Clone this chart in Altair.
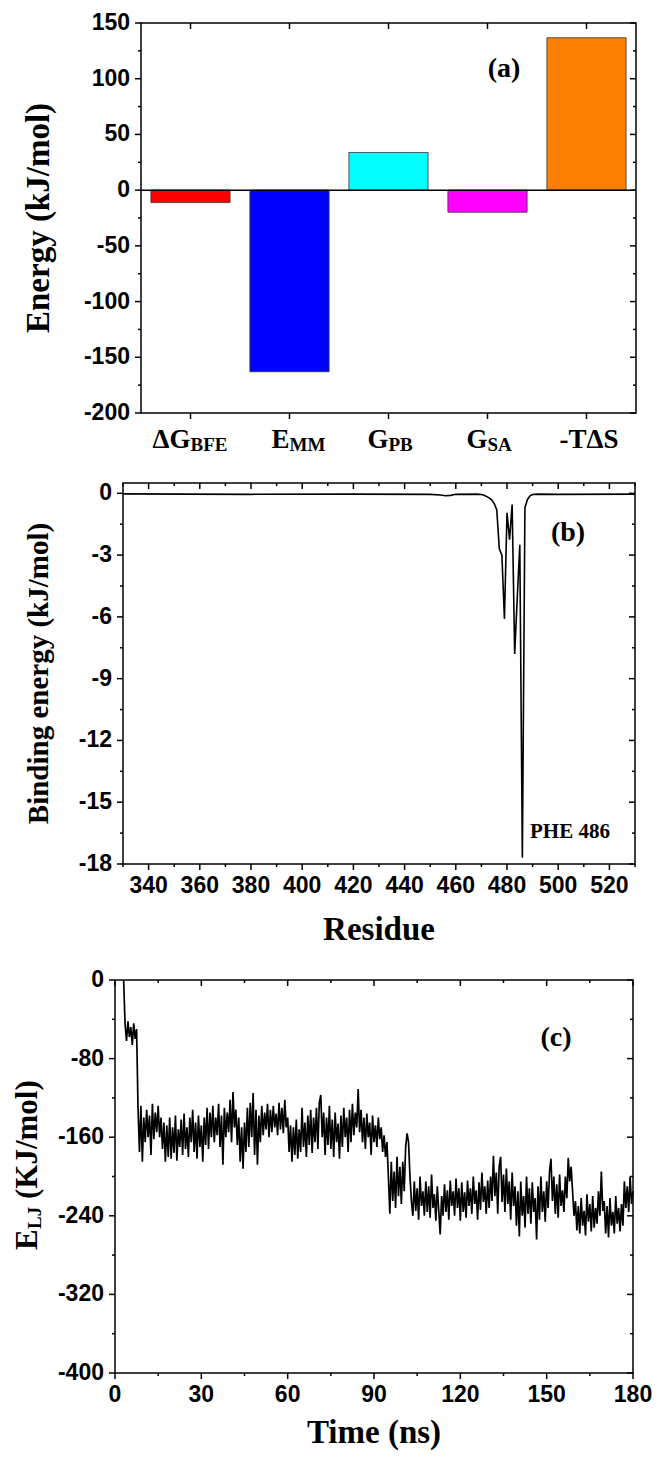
import altair as alt
import pandas as pd

SERIF = "Liberation Serif"
SANS = "Liberation Sans"

# ---------------- Panel (a): energy components ----------------
terms = ["dG_BFE", "E_MM", "G_PB", "G_SA", "-TdS"]
energy = [-11.2, -163.0, 33.8, -19.8, 136.8]
bar_colors = ["#FF0000", "#0000FF", "#00FFFF", "#FF00FF", "#FF8000"]
label_main = ["ΔG", "E", "G", "G", "-T"]
label_sub = ["BFE", "MM", "PB", "SA", ""]
label_tail = ["", "", "", "", "ΔS"]
a_y_major = [-200, -150, -100, -50, 0, 50, 100, 150]
a_y_labels = ["-200", "-150", "-100", "-50", "0", "50", "100", "150"]
a_y_minor = [-175, -125, -75, -25, 25, 75, 125]
a_title = "Energy (kJ/mol)"

# ---------------- Panel (b): per-residue binding energy ----------------
residue = [330, 380, 420, 450, 454, 456, 458, 460, 468, 470, 471, 472, 473, 474,
           475, 476, 477, 478, 479, 480, 481, 482, 483, 484, 485, 486, 487, 488,
           489, 490, 492, 500, 530]
binding = [-0.03, -0.05, -0.04, -0.05, -0.08, -0.12, -0.10, -0.05, -0.04, -0.06,
           -0.10, -0.15, -0.22, -0.32, -0.50, -0.80, -2.70, -3.00, -6.10, -0.95,
           -2.25, -0.55, -7.80, -5.10, -2.50, -17.70, -0.70, -0.30, -0.12, -0.06,
           -0.04, -0.05, -0.04]
b_y_major = [-18, -15, -12, -9, -6, -3, 0]
b_y_labels = ["-18", "-15", "-12", "-9", "-6", "-3", "0"]
b_y_minor = [-16.5, -13.5, -10.5, -7.5, -4.5, -1.5]
b_x_major = [340, 360, 380, 400, 420, 440, 460, 480, 500, 520]
b_x_labels = ["340", "360", "380", "400", "420", "440", "460", "480", "500", "520"]
b_x_minor = [330, 350, 370, 390, 410, 430, 450, 470, 490, 510, 530]
b_title_y = "Binding energy (kJ/mol)"
b_title_x = "Residue"

# ---------------- Panel (c): E_LJ vs time (sampled every 0.5 ns from 3.0 ns) ----------------
elj = [
    0, -45, -62, -42, -58, -48, -66, -44, -60, -50,
    -130, -175, -128, -185, -140, -165, -132, -160, -138, -178,
    -126, -162, -135, -155, -128, -160, -140, -172, -145, -185,
    -148, -180, -140, -182, -150, -176, -138, -184, -152, -170,
    -142, -178, -136, -172, -150, -180, -140, -165, -132, -175,
    -145, -182, -138, -170, -148, -185, -140, -168, -130, -172,
    -135, -160, -128, -165, -140, -158, -126, -170, -138, -188,
    -130, -160, -135, -155, -122, -165, -114, -150, -132, -168,
    -140, -185, -150, -192, -145, -175, -130, -170, -125, -160,
    -115, -178, -132, -188, -138, -165, -128, -158, -135, -152,
    -126, -160, -132, -155, -128, -150, -136, -158, -125, -152,
    -130, -156, -122, -150, -140, -175, -148, -185, -150, -178,
    -142, -182, -152, -175, -130, -170, -145, -180, -138, -168,
    -132, -176, -140, -165, -130, -172, -125, -117, -160, -135,
    -178, -140, -168, -128, -172, -142, -180, -135, -165, -146,
    -182, -138, -170, -130, -160, -140, -175, -132, -165, -126,
    -158, -135, -150, -111, -155, -132, -165, -140, -172, -136,
    -160, -145, -178, -138, -165, -148, -170, -140, -162, -150,
    -175, -158, -180, -165, -200, -238, -185, -225, -195, -232,
    -180, -220, -190, -228, -185, -215, -170, -156, -165, -200,
    -225, -240, -205, -235, -212, -244, -200, -230, -215, -240,
    -205, -236, -210, -242, -198, -232, -218, -245, -210, -235,
    -259, -220, -240, -208, -236, -214, -244, -204, -230, -215,
    -240, -202, -232, -212, -245, -206, -236, -216, -242, -204,
    -230, -212, -238, -200, -228, -214, -244, -206, -234, -196,
    -226, -210, -238, -204, -232, -200, -225, -179, -220, -196,
    -238, -190, -180, -226, -198, -236, -192, -228, -205, -244,
    -196, -230, -210, -250, -215, -261, -205, -240, -220, -252,
    -200, -238, -212, -248, -206, -236, -222, -264, -210, -244,
    -200, -236, -215, -246, -205, -232, -195, -182, -225, -200,
    -238, -208, -242, -198, -230, -214, -236, -200, -222, -181,
    -205, -190, -215, -240, -225, -255, -230, -258, -222, -250,
    -235, -260, -218, -246, -228, -256, -220, -252, -232, -248,
    -215, -240, -195, -235, -225, -258, -230, -262, -222, -250,
    -236, -258, -220, -248, -232, -256, -228, -250, -205, -232,
    -210, -236, -200, -228, -215,
]
time_ns = [3.0 + 0.5 * i for i in range(len(elj))]
c_y_major = [-400, -320, -240, -160, -80, 0]
c_y_labels = ["-400", "-320", "-240", "-160", "-80", "0"]
c_y_minor = [-360, -280, -200, -120, -40]
c_x_major = [0, 30, 60, 90, 120, 150, 180]
c_x_labels = ["0", "30", "60", "90", "120", "150", "180"]
c_x_minor = [15, 45, 75, 105, 135, 165]
c_title_y = ["E", "LJ", "(KJ/mol)"]
c_title_x = "Time (ns)"

ONE = pd.DataFrame({"k": [0]})
LABEL_SIZE = 23


def vticks(vals, field, scale, x0, x1):
    df = pd.DataFrame({field: vals})
    return alt.Chart(df).mark_rule(color="black", strokeWidth=1.5).encode(
        y=alt.Y(f"{field}:Q", scale=scale, axis=None),
        x=alt.value(x0), x2=alt.value(x1))


def hticks(vals, field, ftype, scale, y0, y1):
    df = pd.DataFrame({field: vals})
    return alt.Chart(df).mark_rule(color="black", strokeWidth=1.5).encode(
        x=alt.X(f"{field}:{ftype}", scale=scale, axis=None),
        y=alt.value(y0), y2=alt.value(y1))


def vlabels(vals, texts, field, scale):
    df = pd.DataFrame({field: vals, "lab": texts})
    return alt.Chart(df).mark_text(align="right", baseline="middle", font=SANS,
                                   fontWeight="bold", fontSize=LABEL_SIZE, color="black").encode(
        y=alt.Y(f"{field}:Q", scale=scale, axis=None), x=alt.value(-11), text="lab:N")


def hlabels(vals, texts, field, scale, h):
    df = pd.DataFrame({field: vals, "lab": texts})
    return alt.Chart(df).mark_text(align="center", baseline="top", font=SANS,
                                   fontWeight="bold", fontSize=LABEL_SIZE, color="black").encode(
        x=alt.X(f"{field}:Q", scale=scale, axis=None), y=alt.value(h + 11), text="lab:N")


def box(w, h):
    return alt.Chart(ONE).mark_rect(fillOpacity=0, stroke="black", strokeWidth=1.5).encode(
        x=alt.value(0), x2=alt.value(w), y=alt.value(0), y2=alt.value(h))


def frame(left, top, w, h, bottom):
    return alt.Chart(ONE).mark_rule(strokeOpacity=0, color="white").encode(
        x=alt.value(-left), x2=alt.value(w), y=alt.value(-top), y2=alt.value(h + bottom))


def note(text, x, y, size, angle=0, align="center", baseline="middle"):
    return alt.Chart(ONE).mark_text(text=text, font=SERIF, fontWeight="bold", fontSize=size,
                                    color="black", align=align, baseline=baseline,
                                    angle=angle).encode(x=alt.value(x), y=alt.value(y))


def spacer(w):
    return alt.Chart(ONE).mark_rule(strokeOpacity=0, color="white").encode(
        x=alt.value(0), x2=alt.value(w), y=alt.value(0)).properties(width=w, height=1)


# ---------- Panel (a) ----------
W_A, H_A = 495, 390
sx_a = alt.Scale(domain=terms, paddingInner=0.2, paddingOuter=0.1)
sy_a = alt.Scale(domain=[-200, 150], nice=False)
df_a = pd.DataFrame({"term": terms, "energy": energy, "main": label_main,
                     "sub": label_sub, "tail": label_tail})

bars = alt.Chart(df_a).mark_bar(stroke="#333333", strokeWidth=0.8).encode(
    x=alt.X("term:N", scale=sx_a, axis=None),
    y=alt.Y("energy:Q", scale=sy_a, axis=None),
    y2=alt.datum(0),
    color=alt.Color("term:N", scale=alt.Scale(domain=terms, range=bar_colors), legend=None),
)
zero_a = alt.Chart(pd.DataFrame({"energy": [0]})).mark_rule(color="black", strokeWidth=1.5).encode(
    y=alt.Y("energy:Q", scale=sy_a, axis=None))
lab_main = alt.Chart(df_a).mark_text(align="right", baseline="alphabetic", font=SERIF,
                                     fontWeight="bold", fontSize=27, color="black").encode(
    x=alt.X("term:N", scale=sx_a, axis=None), y=alt.value(H_A + 35), text="main:N")
lab_sub = alt.Chart(df_a).mark_text(align="left", baseline="alphabetic", font=SERIF,
                                    fontWeight="bold", fontSize=19, color="black").encode(
    x=alt.X("term:N", scale=sx_a, axis=None), y=alt.value(H_A + 38), text="sub:N")
lab_tail = alt.Chart(df_a).mark_text(align="left", baseline="alphabetic", font=SERIF,
                                     fontWeight="bold", fontSize=27, color="black").encode(
    x=alt.X("term:N", scale=sx_a, axis=None), y=alt.value(H_A + 35), text="tail:N")

panel_a = alt.layer(
    frame(122, 15, W_A, H_A, 62),
    bars, zero_a,
    vticks(a_y_major, "energy", sy_a, -6, 0),
    vticks(a_y_minor, "energy", sy_a, -3, 0),
    vticks(a_y_major, "energy", sy_a, W_A - 6, W_A),
    vticks(a_y_minor, "energy", sy_a, W_A - 3, W_A),
    hticks(terms, "term", "N", sx_a, 0, 6),
    hticks(terms, "term", "N", sx_a, H_A, H_A + 6),
    vlabels(a_y_major, a_y_labels, "energy", sy_a),
    lab_main, lab_sub, lab_tail,
    note(a_title, -102, H_A / 2, 33, angle=270),
    note("(a)", 363, 46, 28),
    box(W_A, H_A),
).properties(width=W_A, height=H_A)

# ---------- Panel (b) ----------
W_B, H_B = 512, 381
sx_b = alt.Scale(domain=[330, 530], nice=False, zero=False)
sy_b = alt.Scale(domain=[-18, 0.5], nice=False, zero=False)
df_b = pd.DataFrame({"residue": residue, "binding": binding})
line_b = alt.Chart(df_b).mark_line(color="black", strokeWidth=1.6).encode(
    x=alt.X("residue:Q", scale=sx_b, axis=None),
    y=alt.Y("binding:Q", scale=sy_b, axis=None),
)
panel_b = alt.layer(
    frame(104, 8, W_B, H_B, 96),
    line_b,
    vticks(b_y_major, "binding", sy_b, -6, 0),
    vticks(b_y_minor, "binding", sy_b, -3, 0),
    vticks(b_y_major, "binding", sy_b, W_B - 6, W_B),
    vticks(b_y_minor, "binding", sy_b, W_B - 3, W_B),
    hticks(b_x_major, "residue", "Q", sx_b, 0, 6),
    hticks(b_x_minor, "residue", "Q", sx_b, 0, 3),
    hticks(b_x_major, "residue", "Q", sx_b, H_B, H_B + 6),
    hticks(b_x_minor, "residue", "Q", sx_b, H_B, H_B + 3),
    vlabels(b_y_major, b_y_labels, "binding", sy_b),
    hlabels(b_x_major, b_x_labels, "residue", sx_b, H_B),
    note(b_title_y, -84, H_B / 2, 29, angle=270),
    note(b_title_x, W_B / 2, H_B + 66, 33),
    note("(b)", 445, 50, 28),
    note("PHE 486", 447, 349, 21),
    box(W_B, H_B),
).properties(width=W_B, height=H_B)

# ---------- Panel (c) ----------
W_C, H_C = 518, 393
sx_c = alt.Scale(domain=[0, 180], nice=False, zero=False)
sy_c = alt.Scale(domain=[-400, 0], nice=False, zero=False)
df_c = pd.DataFrame({"time": time_ns, "elj": elj})
line_c = alt.Chart(df_c).mark_line(color="black", strokeWidth=1.7).encode(
    x=alt.X("time:Q", scale=sx_c, axis=None),
    y=alt.Y("elj:Q", scale=sy_c, axis=None),
)
panel_c = alt.layer(
    frame(106, 20, W_C, H_C, 80),
    line_c,
    vticks(c_y_major, "elj", sy_c, -6, 0),
    vticks(c_y_minor, "elj", sy_c, -3, 0),
    vticks(c_y_major, "elj", sy_c, W_C - 6, W_C),
    vticks(c_y_minor, "elj", sy_c, W_C - 3, W_C),
    hticks(c_x_major, "time", "Q", sx_c, 0, 6),
    hticks(c_x_minor, "time", "Q", sx_c, 0, 3),
    hticks(c_x_major, "time", "Q", sx_c, H_C, H_C + 6),
    hticks(c_x_minor, "time", "Q", sx_c, H_C, H_C + 3),
    vlabels(c_y_major, c_y_labels, "elj", sy_c),
    hlabels(c_x_major, c_x_labels, "time", sx_c, H_C),
    note(c_title_y[0], -78, 270, 31, angle=270, align="left", baseline="alphabetic"),
    note(c_title_y[1], -74, 249, 19, angle=270, align="left", baseline="alphabetic"),
    note(c_title_y[2], -78, 219, 31, angle=270, align="left", baseline="alphabetic"),
    note(c_title_x, W_C / 2, H_C + 60, 33),
    note("(c)", 441, 58, 28),
    box(W_C, H_C),
).properties(width=W_C, height=H_C)

row_a = alt.hconcat(spacer(11), panel_a, spacing=0)
row_b = alt.hconcat(spacer(11), panel_b, spacing=0)
row_c = alt.hconcat(spacer(1), panel_c, spacing=0)

chart = alt.vconcat(row_a, row_b, row_c, spacing=0).properties(
    padding={"left": 0, "top": 0, "right": 0, "bottom": 0}
).configure_view(strokeWidth=0)

chart.save("out.html", embed_options={"renderer": "svg", "actions": False})
